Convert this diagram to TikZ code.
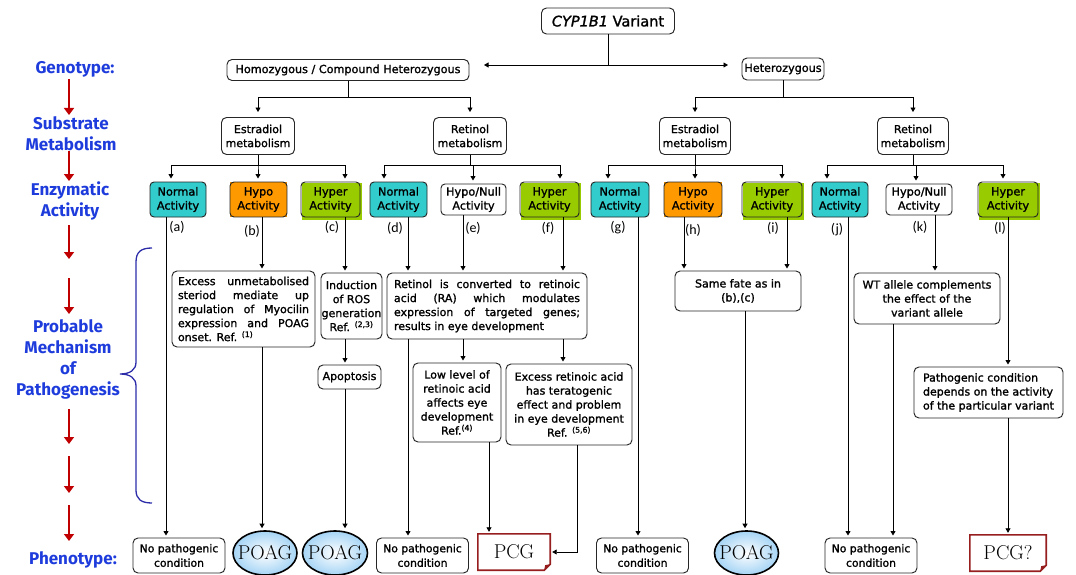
\documentclass[tikz,border=0pt]{standalone}
\usepackage{fontspec}
\setsansfont{Fira Sans}
\newfontfamily\medfont{DejaVu Sans}[FakeBold=1.4]
\newfontfamily\lblfont{Carlito}
\usetikzlibrary{arrows.meta,shapes.geometric,calc,backgrounds}
\definecolor{normc}{RGB}{51,204,204}
\definecolor{hypoc}{RGB}{255,153,0}
\definecolor{hyperc}{RGB}{153,204,0}
\definecolor{lblue}{RGB}{30,60,220}
\definecolor{dred}{RGB}{192,0,0}
\definecolor{pcgred}{RGB}{150,30,30}
\definecolor{brblue}{RGB}{45,45,170}
\definecolor{poagout}{RGB}{165,212,245}
\newcommand{\jl}[2]{\makebox[#1][s]{#2}}
\newcommand{\pg}[1]{\makebox[0pt]{\raisebox{-6.5pt}[0pt][0pt]{#1}}}
\begin{document}
\begin{tikzpicture}[x=1pt,y=-1pt,
  bx/.style={draw=black!85, line width=0.95pt, rounded corners=5pt, inner sep=0pt, align=center, font=\medfont\fontsize{11}{14}\selectfont},
  act/.style={bx, rounded corners=4pt, minimum height=35pt, font=\medfont\fontsize{11.3}{14}\selectfont},
  phn/.style={bx, minimum width=92pt, minimum height=35pt, font=\medfont\fontsize{10.8}{14.5}\selectfont},
  arr/.style={-{Triangle[length=4.5pt,width=5pt]}, line width=0.8pt, shorten >=2pt},
  ln/.style={line width=0.8pt},
  redarr/.style={draw=dred, line width=2.2pt, -{Triangle[length=7pt,width=10pt]}},
  blbl/.style={text=lblue, font=\sffamily\bfseries\fontsize{17}{21}\selectfont, align=center, inner sep=0pt},
  tag/.style={font=\lblfont\fontsize{14}{14}\selectfont, inner sep=0pt},
  poag/.style={ellipse, draw, line width=1.6pt, inner sep=0pt, minimum width=64pt, minimum height=44pt, inner color=white, outer color=poagout, font=\rmfamily\fontsize{20}{20}\selectfont},
  pcgn/.style={inner sep=0pt, minimum width=72pt, minimum height=36pt, font=\rmfamily\fontsize{20}{20}\selectfont},
  pcgline/.style={draw=pcgred, line width=1.6pt, line join=miter},
  brace/.style={draw=brblue, line width=1.3pt}
]
\useasboundingbox (0,0) rectangle (1076,575);

% ---- top level
\node[bx, minimum width=133pt, minimum height=26pt, font=\medfont\fontsize{14.5}{16}\selectfont] (cyp) at (608,21) {\textit{CYP1B1} Variant};
\node[bx, minimum width=242pt, minimum height=21pt, font=\medfont\fontsize{11.2}{14}\selectfont] (hom) at (348,70) {Homozygous / Compound Heterozygous};
\node[bx, minimum width=82pt, minimum height=22pt, font=\medfont\fontsize{11.2}{14}\selectfont] (het) at (783,69) {Heterozygous};

\node[bx, minimum width=73pt, minimum height=37pt] (esth) at (258,136) {Estradiol\\metabolism};
\node[bx, minimum width=73pt, minimum height=37pt] (reth) at (470,136) {Retinol\\metabolism};
\node[bx, minimum width=71pt, minimum height=37pt] (este) at (695,136) {Estradiol\\metabolism};
\node[bx, minimum width=71pt, minimum height=37pt] (rete) at (913,136) {Retinol\\metabolism};

% ---- enzymatic activity
\node[act, fill=normc, minimum width=56pt] (ea) at (178,199.5) {Normal\\Activity};
\node[act, minimum width=57pt] (eb) at (258.5,199.5) {Hypo\\Activity};
\node[act, minimum width=59pt] (ec) at (330.5,199.5) {Hyper\\Activity};
\node[act, fill=normc, minimum width=57pt] (ed) at (398.5,199.5) {Normal\\Activity};
\node[act, fill=white, minimum width=65pt, minimum height=31pt] (ee) at (473.5,199.5) {Hypo/Null\\Activity};
\node[act, minimum width=59pt] (ef) at (549.5,199.5) {Hyper\\Activity};
\node[act, fill=normc, minimum width=58pt] (eg) at (620,199.5) {Normal\\Activity};
\node[act, minimum width=58pt] (eh) at (693,199.5) {Hypo\\Activity};
\node[act, minimum width=60pt] (ei) at (772,199.5) {Hyper\\Activity};
\node[act, fill=normc, minimum width=56pt] (ej) at (840,199.5) {Normal\\Activity};
\node[act, fill=white, minimum width=66pt, minimum height=31pt] (ek) at (919,199.5) {Hypo/Null\\Activity};
\node[act, minimum width=60pt] (el) at (1008,199.5) {Hyper\\Activity};

\begin{scope}[on background layer]
  \fill[hypoc] (eb.north west) rectangle (eb.south east);
  \fill[hypoc] (eh.north west) rectangle (eh.south east);
  \foreach \n in {ec,ef,ei,el}{
    \fill[hyperc] ($(\n.north west)+(1,1)$) rectangle ($(\n.south east)+(2,3)$);
  }
\end{scope}

% ---- tags
\node[tag] (la) at (177,227) {(a)};
\node[tag] (lb) at (252,231) {(b)};
\node[tag] (lc) at (332,227) {(c)};
\node[tag] (ld) at (395,228) {(d)};
\node[tag] (le) at (473,228) {(e)};
\node[tag] (lf) at (548,228) {(f)};
\node[tag] (lg) at (618,228) {(g)};
\node[tag] (lh) at (693,230) {(h)};
\node[tag] (li) at (773,228) {(i)};
\node[tag] (lj) at (837,230) {(j)};
\node[tag] (lk) at (920,227) {(k)};
\node[tag] (ll2) at (1000,228) {(l)};

% ---- mechanisms
\node[bx, minimum width=143pt, minimum height=76pt, align=left] (mb) at (243.5,309)
  {\jl{131pt}{Excess unmetabolised}\\\jl{131pt}{steriod mediate up}\\\jl{131pt}{regulation of Myocilin}\\\jl{131pt}{expression and POAG}\\onset. Ref. \textsuperscript{(1)}};
\node[bx, minimum width=61pt, minimum height=66pt] (mc) at (351.5,306) {Induction\\of ROS\\generation\\Ref. \textsuperscript{(2,3)}};
\node[bx, minimum width=200pt, minimum height=66pt, align=left] (md) at (487,306)
  {\jl{186pt}{Retinol is converted to retinoic}\\\jl{186pt}{acid (RA) which modulates}\\\jl{186pt}{expression of targeted genes;}\\results in eye development};
\node[bx, minimum width=63pt, minimum height=24pt] (ap) at (349.5,377) {Apoptosis};
\node[bx, minimum width=88pt, minimum height=79pt] (lo) at (457,402.5) {Low level of\\retinoic acid\\affects eye\\development\\Ref.\textsuperscript{(4)}};
\node[bx, minimum width=126pt, minimum height=81pt] (er) at (569,404.5) {Excess retinoic acid\\has teratogenic\\effect and problem\\in eye development\\Ref. \textsuperscript{(5,6)}};
\node[bx, minimum width=126pt, minimum height=40pt] (sf) at (738,291) {Same fate as in\\(b),(c)};
\node[bx, minimum width=146pt, minimum height=51pt] (wt) at (927,298.5) {WT allele complements\\the effect of the\\variant allele};
\node[bx, minimum width=149pt, minimum height=51pt, align=left] (ml) at (988.5,392.5) {Pathogenic condition\\depends on the activity\\of the particular variant};

% ---- phenotypes
\node[phn] (pa) at (179,555.5) {No pathogenic\\condition};
\node[poag] (pb) at (265,553) {\pg{POAG}};
\node[poag, minimum width=65pt] (pc) at (335,553) {\pg{POAG}};
\node[phn] (pd) at (422.5,555.5) {No pathogenic\\condition};
\node[pcgn] (pe) at (514,552) {PCG};
\node[phn] (pg) at (642.5,555.5) {No pathogenic\\condition};
\node[poag] (ph) at (746.5,553) {\pg{POAG}};
\node[phn] (pj) at (871,555.5) {No pathogenic\\condition};
\node[pcgn, minimum width=76pt] (pl) at (1008,553) {PCG?};
\foreach \n in {pe,pl}{
  \draw[pcgline] (\n.north west) -- (\n.north east) -- ($(\n.south east)+(0,-6)$) -- ($(\n.south east)+(-6,0)$) -- (\n.south west) -- cycle;
  \fill[pcgred] ($(\n.south east)+(0,-6)$) -- ($(\n.south east)+(-6,0)$) -- ($(\n.south east)+(-5,-5)$) -- cycle;
}

% ---- left labels
\node[blbl] (gen) at (75,69) {Genotype:};
\node[blbl] (sub) at (71,133.5) {Substrate\\Metabolism};
\node[blbl] (enz) at (70,200.5) {Enzymatic\\Activity};
\node[blbl] (prob) at (68,359) {Probable\\Mechanism\\of\\Pathogenesis};
\node[blbl] (phen) at (73,560) {Phenotype:};

\coordinate (r1a) at (69,79);  \coordinate (r1b) at (69,115);
\coordinate (r2a) at (69,151); \coordinate (r2b) at (69,181);
\coordinate (r3a) at (69,225); \coordinate (r3b) at (69,259);
\coordinate (r4a) at (69,278); \coordinate (r4b) at (69,314);
\coordinate (r5a) at (69,409); \coordinate (r5b) at (69,444);
\coordinate (r6a) at (69,456); \coordinate (r6b) at (69,493);
\coordinate (r7a) at (69,505); \coordinate (r7b) at (69,541);
\foreach \k in {1,...,7}{ \draw[redarr] (r\k a) -- (r\k b); }

\draw[brace] (152,248) .. controls (141,248) and (136,252) .. (136,262) -- (136,362)
  .. controls (136,370) and (130,374) .. (120,374) .. controls (130,374) and (136,378) .. (136,386)
  -- (136,490) .. controls (136,499) and (141,503) .. (152,503);

% ---- x positions
\coordinate (ua) at (171,0); \coordinate (ub) at (258,0); \coordinate (uc) at (345,0);
\coordinate (ud) at (384,0); \coordinate (ue) at (473,0); \coordinate (uf) at (560,0);
\coordinate (ug) at (608,0); \coordinate (uh) at (695,0); \coordinate (ui) at (782,0);
\coordinate (uj) at (827,0); \coordinate (uk) at (916,0); \coordinate (ul) at (1003,0);
\coordinate (va) at (166,0); \coordinate (vb) at (262,0); \coordinate (vc) at (345,0);
\coordinate (vd) at (408,0); \coordinate (ve) at (463,0); \coordinate (vf) at (563,0);
\coordinate (vg) at (638,0); \coordinate (vh) at (684,0); \coordinate (vi) at (787,0);
\coordinate (vj) at (848,0); \coordinate (vk) at (935,0); \coordinate (vl) at (1008,0);
\coordinate (xlo) at (489,0); \coordinate (xer) at (577,0); \coordinate (xsf) at (745,0); \coordinate (xwt) at (893,0);

% ---- connectors
\coordinate (cj) at (608,65); \coordinate (hl) at (484,65); \coordinate (hr) at (728,65);
\draw[ln] (cyp.south) -- (cj);
\draw[arr, shorten >=0pt] (cj) -- (hl);
\draw[arr, shorten >=0pt] (cj) -- (hr);

\draw[arr, shorten >=5pt] (hom.south) -- ++(0,16) -| (esth.north);
\draw[arr, shorten >=5pt] (hom.south) -- ++(0,16) -| (reth.north);
\draw[arr, shorten >=5pt] (het.south) -- ++(0,17) -| (este.north);
\draw[arr, shorten >=5pt] (het.south) -- ++(0,17) -| (rete.north);

\foreach \p/\c/\u in {esth/ea/ua, esth/eb/ub, esth/ec/uc, reth/ed/ud, reth/ee/ue, reth/ef/uf,
                      este/eg/ug, este/eh/uh, este/ei/ui, rete/ej/uj, rete/ek/uk, rete/el/ul}{
  \draw[arr, shorten >=3pt] (\p.south) -- ++(0,10.5) -| (\c.north -| \u);
}

\draw[arr] (ea.south -| va) -- (pa.north -| va);
\draw[arr] (eb.south -| vb) -- (mb.north -| vb);
\draw[arr] (mb.south -| vb) -- (pb.north -| vb);
\draw[arr] (ec.south -| vc) -- (mc.north -| vc);
\draw[arr] (mc.south -| vc) -- (ap.north -| vc);
\draw[arr] (ap.south -| vc) -- (pc.north -| vc);
\draw[arr] (ed.south -| vd) -- (md.north -| vd);
\draw[arr] (ee.south -| ve) -- (md.north -| ve);
\draw[arr] (ef.south -| vf) -- (md.north -| vf);
\draw[arr] (md.south -| vd) -- (pd.north -| vd);
\draw[arr] (md.south -| ve) -- (lo.north -| ve);
\draw[arr] (md.south -| vf) -- (er.north -| vf);
\draw[arr] (lo.south -| xlo) -- (pe.north -| xlo);
\draw[arr] (er.south -| xer) |- (pe.east);
\draw[arr] (eg.south -| vg) -- (pg.north -| vg);
\draw[arr] (eh.south -| vh) -- (sf.north -| vh);
\draw[arr] (ei.south -| vi) -- (sf.north -| vi);
\draw[arr] (sf.south -| xsf) -- (ph.north -| xsf);
\draw[arr] (ej.south -| vj) -- (pj.north -| vj);
\draw[arr] (ek.south -| vk) -- (wt.north -| vk);
\draw[arr] (wt.south -| xwt) -- (pj.north -| xwt);
\draw[arr] (el.south -| vl) -- (ml.north -| vl);
\draw[arr] (ml.south -| vl) -- (pl.north -| vl);
\end{tikzpicture}
\end{document}
